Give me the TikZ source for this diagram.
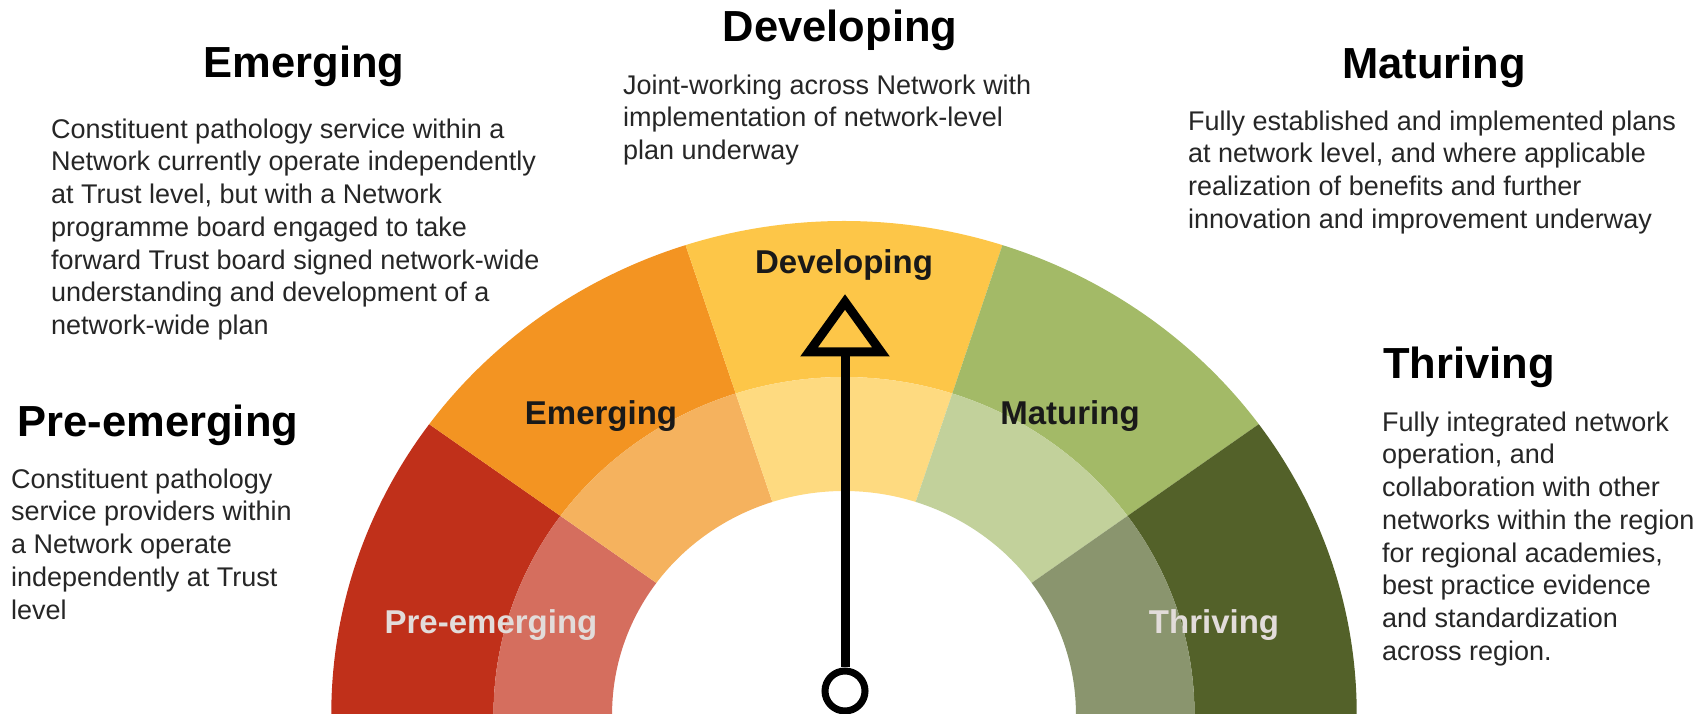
\documentclass[tikz,border=0pt]{standalone}
\usepackage{fontspec}
\setmainfont{Liberation Sans}
\usepackage{tikz}

\definecolor{preOut}{HTML}{C0301A}
\definecolor{preIn}{HTML}{D56E5E}
\definecolor{emOut}{HTML}{F39422}
\definecolor{emIn}{HTML}{F5B25E}
\definecolor{dvOut}{HTML}{FDC648}
\definecolor{dvIn}{HTML}{FEDA80}
\definecolor{mtOut}{HTML}{A3BA67}
\definecolor{mtIn}{HTML}{C2D19B}
\definecolor{thOut}{HTML}{536129}
\definecolor{thIn}{HTML}{8A956E}
\definecolor{lblPale}{HTML}{E2DCDA}

\begin{document}
\begin{tikzpicture}[x=1pt,y=1pt,
    title/.style={font=\fontsize{43.5}{50}\selectfont\bfseries, inner sep=0pt},
    body/.style={font=\fontsize{27}{32.7}\selectfont, align=left, anchor=north west,
                 inner sep=0pt, text=black!85},
    gaugelbl/.style={font=\fontsize{33}{40}\selectfont\bfseries, inner sep=0pt},
    needle/.style={draw=black, line width=9pt}]

    \useasboundingbox (0,0) rectangle (1704,714);

    % Gauge (five bands, dark outer ring and pale inner ring)
    \begin{scope}[shift={(844,0)}, xscale=1.04]
        \foreach \a/\co/\ci in {144/preOut/preIn, 108/emOut/emIn, 72/dvOut/dvIn,
                                36/mtOut/mtIn, 0/thOut/thIn}{
            \fill[\co] (\a:337) arc[start angle=\a, end angle=\a+36, radius=337]
                -- (\a+36:493) arc[start angle=\a+36, end angle=\a, radius=493] -- cycle;
            \fill[\ci] (\a:223) arc[start angle=\a, end angle=\a+36, radius=223]
                -- (\a+36:337) arc[start angle=\a+36, end angle=\a, radius=337] -- cycle;
        }
    \end{scope}

    % Band labels
    \node[gaugelbl, text=lblPale] (PEg) at (491,88.5) {Pre-emerging};
    \node[gaugelbl, text=black!90] (EMg) at (601,297.5) {Emerging};
    \node[gaugelbl, text=black!90] (DVg) at (844,448.5) {Developing};
    \node[gaugelbl, text=black!90] (MTg) at (1070,297.5) {Maturing};
    \node[gaugelbl, text=lblPale] (THg) at (1214,88.5) {Thriving};

    % Needle
    \node[draw, circle, line width=7pt, fill=white, minimum size=40pt, inner sep=0pt] (pivot) at (845,23) {};
    \coordinate (tip) at (845,362);
    \draw[needle] (pivot) -- (tip);
    \draw[needle, line join=miter] (tip) -- ++(-36,0) -- ++(36,50) -- ++(36,-50) -- cycle;

    % Pre-emerging (left)
    \node[title] (PEt) at (158,288.5) {Pre-emerging};
    \node[body] (PEb) at (11,245.5) {Constituent pathology\\service providers within\\a Network operate\\independently at Trust\\level};

    % Emerging (top left)
    \node[title] (EMt) at (304,647.5) {Emerging};
    \node[body] (EMb) at (51,595.5) {Constituent pathology service within a\\Network currently operate independently\\at Trust level, but with a Network\\programme board engaged to take\\forward Trust board signed network-wide\\understanding and development of a\\network-wide plan};

    % Developing (top)
    \node[title] (DVt) at (840,683.5) {Developing};
    \node[body] (DVb) at (623,639.5) {Joint-working across Network with\\implementation of network-level\\plan underway};

    % Maturing (top right)
    \node[title] (MTt) at (1434,646.5) {Maturing};
    \node[body] (MTb) at (1188,603.5) {Fully established and implemented plans\\at network level, and where applicable\\realization of benefits and further\\innovation and improvement underway};

    % Thriving (right)
    \node[title] (THt) at (1469,346.5) {Thriving};
    \node[body] (THb) at (1382,302.5) {Fully integrated network\\operation, and\\collaboration with other\\networks within the region\\for regional academies,\\best practice evidence\\and standardization\\across region.};

\end{tikzpicture}
\end{document}
